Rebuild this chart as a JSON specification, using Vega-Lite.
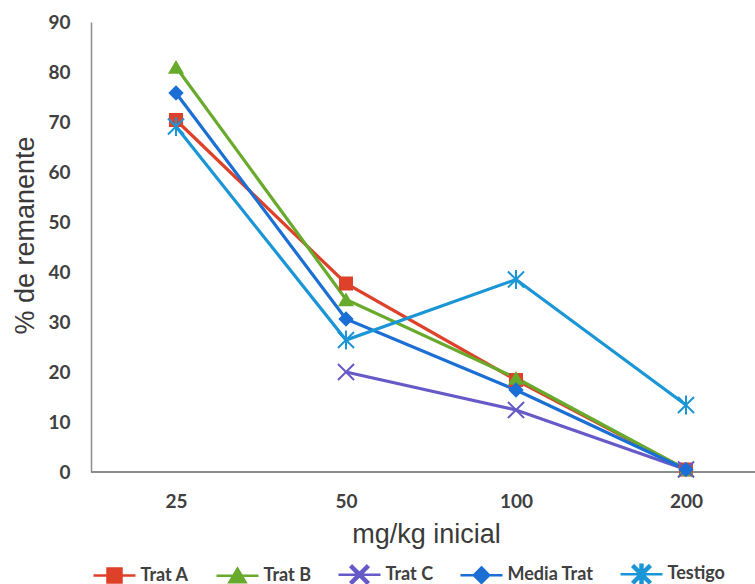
{
  "$schema": "https://vega.github.io/schema/vega-lite/v6.json",
  "width": 664,
  "height": 450,
  "autosize": {"type": "none"},
  "padding": {"left": 91, "top": 22, "right": 0, "bottom": 112},
  "background": "#ffffff",
  "config": {
    "view": {"stroke": null},
    "axis": {"grid": false, "ticks": false, "tickSize": 0},
    "legend": {
      "orient": "none", "legendX": 14.5, "legendY": 543,
      "direction": "horizontal", "title": null, "padding": 0,
      "labelFont": "Lato", "labelFontSize": 18, "labelFontWeight": "bold",
      "labelColor": "#404040", "labelOffset": 17, "columnPadding": 22,
      "symbolSize": 196, "symbolStrokeWidth": 2.5
    }
  },
  "data": {
    "values": [
      {"dosis": 25, "serie": "Trat A", "pct": 70.4},
      {"dosis": 50, "serie": "Trat A", "pct": 37.7},
      {"dosis": 100, "serie": "Trat A", "pct": 18.4},
      {"dosis": 200, "serie": "Trat A", "pct": 0.5},
      {"dosis": 25, "serie": "Trat B", "pct": 81},
      {"dosis": 50, "serie": "Trat B", "pct": 34.5},
      {"dosis": 100, "serie": "Trat B", "pct": 18.8},
      {"dosis": 200, "serie": "Trat B", "pct": 0.5},
      {"dosis": 50, "serie": "Trat C", "pct": 20},
      {"dosis": 100, "serie": "Trat C", "pct": 12.4},
      {"dosis": 200, "serie": "Trat C", "pct": 0.5},
      {"dosis": 25, "serie": "Media Trat", "pct": 75.8},
      {"dosis": 50, "serie": "Media Trat", "pct": 30.6},
      {"dosis": 100, "serie": "Media Trat", "pct": 16.4},
      {"dosis": 200, "serie": "Media Trat", "pct": 0.5},
      {"dosis": 25, "serie": "Testigo", "pct": 69.1},
      {"dosis": 50, "serie": "Testigo", "pct": 26.4},
      {"dosis": 100, "serie": "Testigo", "pct": 38.5},
      {"dosis": 200, "serie": "Testigo", "pct": 13.4}
    ]
  },
  "layer": [
    {
      "mark": {"type": "rule", "color": "#8c8c8c", "strokeWidth": 1.5},
      "encoding": {"y": {"datum": 0, "type": "quantitative"}}
    },
    {
      "mark": {"type": "line", "strokeWidth": 3.2},
      "encoding": {
        "x": {
          "field": "dosis", "type": "ordinal",
          "scale": {"type": "point", "range": [85, 595], "padding": 0},
          "axis": {
            "title": "mg/kg inicial", "domain": false, "labelAngle": 0,
            "labelFont": "Lato", "labelFontSize": 19, "labelFontWeight": "bold",
            "labelColor": "#404040", "labelPadding": 20,
            "titleFont": "Liberation Sans", "titleFontSize": 27, "titleFontWeight": "normal",
            "titleColor": "#3a3a3a", "titlePadding": 10, "titleX": 335
          }
        },
        "y": {
          "field": "pct", "type": "quantitative",
          "scale": {"domain": [0, 90], "nice": false},
          "axis": {
            "title": "% de remanente", "values": [0, 10, 20, 30, 40, 50, 60, 70, 80, 90],
            "domainColor": "#8c8c8c", "domainWidth": 1.5,
            "labelFont": "Lato", "labelFontSize": 19, "labelFontWeight": "bold",
            "labelColor": "#404040", "labelPadding": 21,
            "titleFont": "Liberation Sans", "titleFontSize": 27, "titleFontWeight": "normal",
            "titleColor": "#3a3a3a", "titlePadding": 8, "titleY": 213
          }
        },
        "color": {
          "field": "serie", "type": "nominal",
          "scale": {
            "domain": ["Trat A", "Trat B", "Trat C", "Media Trat", "Testigo"],
            "range": ["#de4129", "#68aa2c", "#6659c8", "#1b6fd4", "#1a96d6"]
          }
        }
      }
    },
    {
      "mark": {"type": "point", "filled": true, "size": 196, "opacity": 1},
      "encoding": {
        "x": {"field": "dosis", "type": "ordinal"},
        "y": {"field": "pct", "type": "quantitative"},
        "color": {"field": "serie", "type": "nominal"},
        "shape": {
          "field": "serie", "type": "nominal",
          "scale": {
            "domain": ["Trat A", "Trat B", "Trat C", "Media Trat", "Testigo"],
            "range": [
              "M-3,0H3M-1,-1H1V1H-1Z",
              "M-3,0H3M0,-1L1.15,0.95H-1.15Z",
              "M-3,0H3M-1.05,-1.25L1.25,1.05L1.05,1.25L-1.25,-1.05ZM1.05,-1.25L1.25,-1.05L-1.05,1.25L-1.25,1.05Z",
              "M-3,0H3M0,-1.1L1.1,0L0,1.1L-1.1,0Z",
              "M-3,0H3M-1.05,-1.25L1.25,1.05L1.05,1.25L-1.25,-1.05ZM1.05,-1.25L1.25,-1.05L-1.05,1.25L-1.25,1.05ZM-0.14,-1.35H0.14V1.35H-0.14Z"
            ]
          },
          "legend": {
            "encode": {
              "symbols": {
                "update": {
                  "fill": {"scale": "color", "field": "value"},
                  "stroke": {"scale": "color", "field": "value"},
                  "strokeWidth": {"value": 2.5},
                  "opacity": {"value": 1}
                }
              }
            }
          }
        }
      }
    }
  ]
}
